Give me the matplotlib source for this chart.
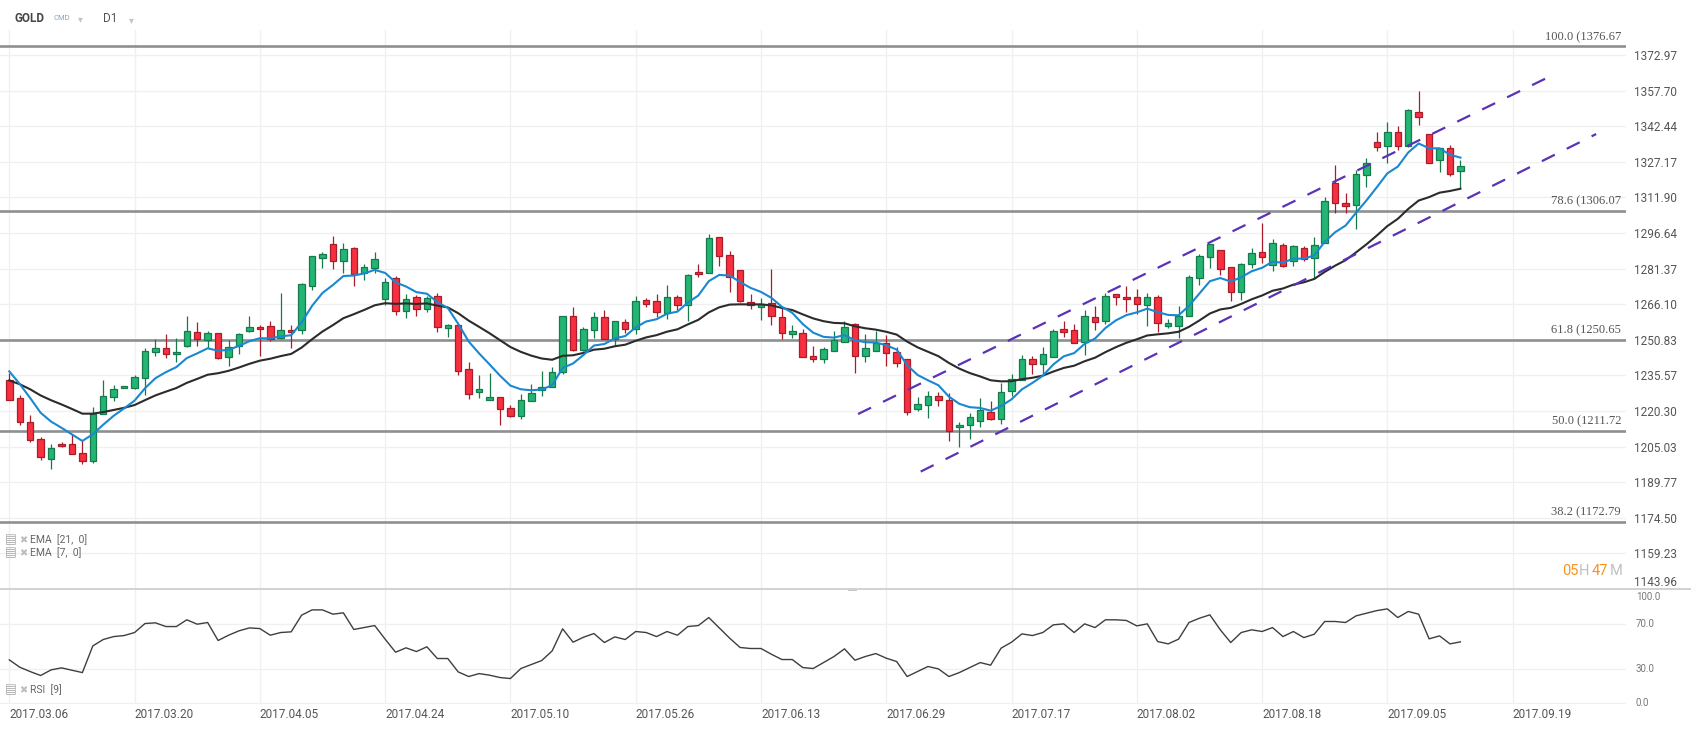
import numpy as np
import matplotlib
matplotlib.use("Agg")
import matplotlib.pyplot as plt
from matplotlib.patches import Rectangle

# ── Data ─────────────────────────────────────────────────────────────────────
OPEN = [1233.4, 1225.8, 1215.6, 1208.3, 1199.7, 1206.1, 1206.1, 1202.3, 1198.9, 1219.0,
        1226.3, 1230.1, 1230.1, 1234.4, 1245.6, 1247.3, 1244.7, 1248.1, 1254.1, 1250.7,
        1253.7, 1243.4, 1248.0, 1254.6, 1256.3, 1256.7, 1251.6, 1255.1, 1255.0, 1273.8,
        1285.8, 1291.8, 1284.6, 1290.1, 1279.4, 1281.6, 1268.3, 1277.3, 1263.1, 1269.4,
        1263.9, 1269.6, 1255.8, 1257.0, 1238.2, 1228.3, 1224.9, 1226.2, 1221.4, 1218.3,
        1224.5, 1229.3, 1230.7, 1236.9, 1261.2, 1246.3, 1254.9, 1260.5, 1251.0, 1258.3,
        1255.3, 1267.8, 1267.3, 1262.2, 1269.1, 1265.6, 1279.8, 1279.4, 1294.8, 1287.1,
        1280.6, 1266.9, 1265.0, 1266.5, 1260.5, 1253.5, 1253.6, 1243.7, 1242.7, 1245.9,
        1250.0, 1257.6, 1244.0, 1246.2, 1249.3, 1245.6, 1242.5, 1221.3, 1223.0, 1226.9,
        1224.9, 1213.3, 1214.1, 1216.1, 1219.7, 1216.7, 1229.0, 1233.5, 1242.8, 1240.6,
        1243.6, 1255.5, 1254.9, 1249.8, 1260.5, 1258.8, 1270.6, 1269.0, 1269.0, 1265.8,
        1269.0, 1256.9, 1256.9, 1261.2, 1277.2, 1286.2, 1289.2, 1281.9, 1271.2, 1283.2,
        1288.4, 1282.9, 1291.4, 1284.5, 1290.4, 1285.8, 1292.2, 1318.0, 1309.4, 1308.5,
        1321.4, 1335.6, 1333.8, 1340.0, 1333.8, 1348.7, 1339.1, 1327.8, 1333.0, 1323.1]
HIGH = [1236.5, 1227.3, 1218.7, 1209.1, 1206.3, 1206.8, 1210.4, 1207.3, 1222.0, 1233.7,
        1231.6, 1230.9, 1235.8, 1247.3, 1251.1, 1253.4, 1251.7, 1261.1, 1258.6, 1254.7,
        1253.7, 1250.8, 1253.7, 1261.1, 1257.1, 1259.0, 1271.1, 1257.1, 1275.4, 1286.7,
        1288.7, 1295.4, 1292.3, 1290.7, 1283.4, 1288.3, 1277.3, 1278.3, 1270.4, 1270.1,
        1269.8, 1270.8, 1257.6, 1257.0, 1241.3, 1235.6, 1236.7, 1226.2, 1222.9, 1227.4,
        1231.7, 1237.5, 1239.2, 1260.9, 1264.9, 1256.2, 1262.6, 1263.5, 1258.8, 1259.8,
        1269.6, 1268.6, 1270.5, 1274.3, 1269.9, 1279.1, 1283.4, 1296.2, 1294.8, 1288.8,
        1280.6, 1270.3, 1268.6, 1281.2, 1264.8, 1257.2, 1255.3, 1248.0, 1247.9, 1254.6,
        1258.8, 1258.2, 1253.2, 1254.6, 1252.8, 1247.9, 1242.5, 1226.2, 1229.0, 1228.6,
        1228.2, 1215.4, 1219.3, 1225.7, 1224.4, 1232.4, 1236.0, 1244.2, 1243.7, 1247.6,
        1255.5, 1258.8, 1257.6, 1263.5, 1265.3, 1270.8, 1270.6, 1273.8, 1272.5, 1270.8,
        1269.9, 1259.6, 1265.3, 1278.5, 1287.5, 1291.8, 1289.2, 1281.9, 1283.9, 1290.4,
        1300.9, 1294.1, 1292.2, 1291.5, 1291.1, 1294.8, 1312.1, 1325.8, 1313.7, 1323.7,
        1328.7, 1340.0, 1344.3, 1342.6, 1349.9, 1357.7, 1339.1, 1333.0, 1334.4, 1328.0]
LOW = [1224.8, 1214.1, 1207.0, 1199.1, 1195.4, 1204.8, 1201.8, 1197.4, 1198.0, 1219.0,
       1224.4, 1230.1, 1229.7, 1227.3, 1244.1, 1242.9, 1241.1, 1247.8, 1248.0, 1247.3,
       1242.6, 1239.8, 1244.6, 1254.1, 1243.7, 1250.3, 1251.1, 1247.3, 1253.3, 1272.0,
       1281.8, 1281.4, 1279.3, 1274.1, 1276.7, 1279.3, 1265.6, 1261.6, 1260.4, 1261.1,
       1262.9, 1254.3, 1252.2, 1235.9, 1225.6, 1226.0, 1224.9, 1214.4, 1217.6, 1217.0,
       1224.5, 1226.9, 1230.5, 1236.0, 1246.0, 1246.0, 1251.8, 1251.0, 1248.5, 1253.9,
       1253.2, 1265.0, 1260.5, 1259.6, 1263.5, 1259.0, 1277.9, 1279.4, 1282.6, 1271.5,
       1266.9, 1263.9, 1259.2, 1257.2, 1251.2, 1251.8, 1243.3, 1241.3, 1241.0, 1245.9,
       1250.0, 1236.5, 1241.5, 1246.2, 1239.7, 1239.3, 1218.6, 1220.3, 1217.4, 1222.4,
       1207.6, 1205.0, 1208.4, 1213.6, 1216.4, 1214.7, 1226.9, 1233.5, 1236.0, 1235.6,
       1243.3, 1252.2, 1249.3, 1244.2, 1254.9, 1257.5, 1265.8, 1262.8, 1261.8, 1256.8,
       1254.3, 1256.0, 1251.8, 1261.2, 1274.5, 1281.5, 1278.6, 1267.6, 1267.9, 1281.5,
       1283.6, 1280.5, 1282.2, 1282.6, 1284.8, 1277.2, 1292.2, 1305.1, 1305.4, 1298.2,
       1316.5, 1332.0, 1326.5, 1332.3, 1333.4, 1343.0, 1326.5, 1323.0, 1321.3, 1315.8]
CLOSE = [1225.1, 1215.6, 1207.8, 1200.6, 1204.4, 1205.1, 1201.8, 1198.9, 1219.1, 1226.7,
         1229.7, 1230.9, 1234.8, 1246.0, 1247.3, 1244.7, 1245.6, 1254.6, 1251.1, 1253.7,
         1243.0, 1247.7, 1253.3, 1256.3, 1255.4, 1251.1, 1255.1, 1254.1, 1274.8, 1286.7,
         1287.6, 1284.6, 1289.7, 1279.1, 1282.0, 1285.4, 1275.6, 1263.4, 1268.3, 1264.0,
         1268.6, 1256.2, 1257.0, 1237.3, 1227.4, 1229.6, 1226.2, 1221.0, 1218.3, 1224.9,
         1227.9, 1230.5, 1236.9, 1260.9, 1246.5, 1255.3, 1260.5, 1251.0, 1258.8, 1255.3,
         1267.3, 1266.3, 1262.6, 1269.1, 1265.6, 1278.5, 1278.9, 1294.4, 1286.7, 1277.6,
         1267.3, 1265.6, 1266.2, 1261.2, 1253.6, 1254.5, 1243.3, 1242.7, 1246.7, 1250.8,
         1256.2, 1244.0, 1247.2, 1249.3, 1245.0, 1241.0, 1220.0, 1223.1, 1226.6, 1224.9,
         1211.9, 1214.1, 1217.6, 1220.6, 1217.0, 1228.3, 1233.9, 1242.5, 1240.6, 1244.7,
         1254.6, 1254.3, 1249.3, 1260.9, 1258.3, 1269.5, 1269.0, 1268.2, 1266.1, 1269.0,
         1258.2, 1257.9, 1260.9, 1277.6, 1286.6, 1291.8, 1281.4, 1271.2, 1283.3, 1287.9,
         1286.2, 1292.2, 1282.6, 1291.0, 1285.5, 1291.4, 1310.2, 1309.4, 1308.4, 1321.8,
         1326.5, 1333.4, 1340.0, 1333.8, 1349.4, 1346.6, 1326.8, 1333.0, 1322.0, 1325.2]
RSI9 = [38.3, 31.8, 27.9, 24.4, 29.4, 31.2, 29.1, 27.0, 50.7, 56.4,
        59.0, 59.9, 62.6, 70.6, 71.2, 67.9, 67.9, 73.9, 70.0, 71.5,
        55.5, 60.2, 64.1, 66.7, 66.1, 60.2, 62.6, 63.2, 78.0, 82.7,
        82.7, 78.9, 80.1, 65.3, 67.0, 68.8, 56.7, 45.1, 49.0, 45.7,
        49.9, 39.5, 39.5, 27.6, 23.5, 26.1, 24.7, 22.6, 21.7, 30.6,
        34.1, 37.7, 46.3, 65.9, 54.0, 58.4, 61.7, 53.7, 58.7, 56.4,
        63.5, 62.6, 59.0, 63.5, 60.2, 67.9, 68.8, 75.9, 66.7, 57.6,
        49.3, 48.4, 48.4, 43.3, 38.6, 38.6, 31.5, 30.6, 35.9, 41.3,
        48.1, 38.0, 41.3, 43.9, 39.8, 36.8, 23.5, 27.9, 32.4, 30.3,
        23.5, 27.0, 31.5, 35.9, 33.6, 48.7, 54.0, 61.4, 59.9, 62.6,
        69.4, 70.3, 62.6, 70.3, 67.0, 73.9, 73.9, 73.3, 68.5, 70.3,
        54.6, 52.5, 56.7, 71.5, 75.3, 78.3, 65.0, 53.7, 62.6, 65.0,
        63.5, 67.0, 59.0, 63.5, 58.1, 61.1, 72.4, 72.4, 71.5, 77.4,
        79.8, 82.1, 83.6, 75.9, 81.3, 78.9, 57.0, 59.6, 52.5, 54.3]

# EMA start values as drawn on the first bar
EMA7_START = 1237.3
EMA21_START = 1233.4

DATE_LABELS = ["2017.03.06", "2017.03.20", "2017.04.05", "2017.04.24", "2017.05.10",
               "2017.05.26", "2017.06.13", "2017.06.29", "2017.07.17", "2017.08.02",
               "2017.08.18", "2017.09.05", "2017.09.19"]
PRICE_TICKS = ["1143.96", "1159.23", "1174.50", "1189.77", "1205.03", "1220.30",
               "1235.57", "1250.83", "1266.10", "1281.37", "1296.64", "1311.90",
               "1327.17", "1342.44", "1357.70", "1372.97"]
RSI_TICKS = [0.0, 30.0, 70.0, 100.0]

FIB_PCT = [100.0, 78.6, 61.8, 50.0, 38.2]
FIB_PRICE = [1376.67, 1306.07, 1250.65, 1211.72, 1172.79]

# channel lines: (bar index, price) start and end
CHANNEL_UPPER = [(81.3, 1219.0), (147.7, 1364.1)]
CHANNEL_LOWER = [(87.3, 1194.3), (152.0, 1339.1)]

# ── Style ────────────────────────────────────────────────────────────────────
W, H = 1691, 729
GREEN, GREEN_EDGE = "#22b573", "#177a4c"
RED, RED_EDGE = "#f7303f", "#a91d2a"
GRID = "#f0f0f0"
FIB_COL = "#8d9092"
TXT = "#555555"
FONT = "Roboto"


def ema(values, span, start):
    a = 2.0 / (span + 1)
    out = [start]
    for v in values[1:]:
        out.append(out[-1] + a * (v - out[-1]))
    return np.array(out)


def fx(px):
    return px / W


def fy(py):
    return 1 - py / H


n = len(CLOSE)
idx = np.arange(n)
o, h, l, c = map(np.array, (OPEN, HIGH, LOW, CLOSE))
up = c >= o

fig = plt.figure(figsize=(W / 100, H / 100), dpi=100)
fig.patch.set_facecolor("white")

XLIM = (-0.891, 154.86)
ax = fig.add_axes([0, fy(589), fx(1626), (589 - 30) / H])
ax_r = fig.add_axes([0, fy(704.1), fx(1626), (704.1 - 589.3) / H])

for a in (ax, ax_r):
    a.set_xlim(*XLIM)
    for s in a.spines.values():
        s.set_visible(False)
    a.tick_params(length=0)
    a.set_xticks(np.arange(0, 12 * len(DATE_LABELS), 12))
    a.grid(True, color=GRID, lw=1)
    a.set_axisbelow(True)

# ── Price panel ──────────────────────────────────────────────────────────────
ax.set_ylim(1143.93, 1383.74)
ax.set_yticks([float(t) for t in PRICE_TICKS])
ax.yaxis.tick_right()
ax.set_yticklabels(PRICE_TICKS, fontsize=8.5, color=TXT, fontfamily=FONT)
ax.tick_params(axis="y", pad=6)
ax.get_yticklabels()[0].set_va("bottom")   # lowest label sits above the panel edge
ax.set_xticklabels([])

for lvl, pr in zip(FIB_PCT, FIB_PRICE):
    ax.axhline(pr, color=FIB_COL, lw=1.9, zorder=1)
    ax.annotate(f"{lvl:.1f} ({pr:.2f}", xy=(0.997, pr), xycoords=("axes fraction", "data"),
                xytext=(0, 2.5), textcoords="offset points", ha="right", va="bottom",
                fontsize=9, color=TXT, fontfamily="Liberation Serif")

# wicks and bodies
ax.vlines(idx[up], l[up], h[up], color=GREEN_EDGE, lw=0.9, zorder=3)
ax.vlines(idx[~up], l[~up], h[~up], color=RED_EDGE, lw=0.9, zorder=3)
body_lo = np.minimum(o, c)
body_h = np.maximum(np.abs(c - o), 0.5)
ax.bar(idx[up], body_h[up], bottom=body_lo[up], width=0.62, color=GREEN,
       edgecolor=GREEN_EDGE, lw=0.9, zorder=4)
ax.bar(idx[~up], body_h[~up], bottom=body_lo[~up], width=0.62, color=RED,
       edgecolor=RED_EDGE, lw=0.9, zorder=4)

ax.plot(idx, ema(CLOSE, 21, EMA21_START), color="#2b2b2b", lw=1.5, zorder=5)
ax.plot(idx, ema(CLOSE, 7, EMA7_START), color="#1a88d0", lw=1.5, zorder=5)

for (x0, y0), (x1, y1) in (CHANNEL_UPPER, CHANNEL_LOWER):
    ax.plot([x0, x1], [y0, y1], color="#5a32b8", lw=1.6, dashes=(6.5, 6), zorder=6)

# ── RSI panel ────────────────────────────────────────────────────────────────
ax_r.set_ylim(-1, 101)
ax_r.set_yticks([0, 30, 70])
ax_r.set_yticklabels([])
ax_r.plot(idx, RSI9, color="#3c3f42", lw=1.0)
ax_r.set_xticklabels(DATE_LABELS, ha="left", fontsize=8.5, color=TXT, fontfamily=FONT)
ax_r.tick_params(axis="x", pad=3)
for v in RSI_TICKS:
    ax_r.annotate(f"{v:.1f}", xy=(1.0, min(v, 94.0)), xycoords=("axes fraction", "data"),
                  xytext=(7, 0), textcoords="offset points", ha="left", va="center",
                  fontsize=7, color="#777777", fontfamily=FONT)

# panel separator
fig.add_artist(plt.Line2D([0, 1], [fy(589.3), fy(589.3)], color="#d2d2d2", lw=1.4))
fig.add_artist(Rectangle((fx(848), fy(590.5)), fx(9), 2.5 / H, color="#c8c8c8", lw=0))

# ── Header & legends ─────────────────────────────────────────────────────────
fig.text(fx(14), fy(18), "GOLD", fontsize=8.5, fontweight="bold", color="#454545",
         fontfamily=FONT, va="center")
fig.text(fx(53), fy(18), "CMD", fontsize=5.5, color="#8fa3b8", fontfamily=FONT, va="center")
fig.text(fx(78), fy(19), "▾", fontsize=7, color="#c4c4c4", va="center")
fig.text(fx(103), fy(18), "D1", fontsize=8.5, color="#555555", fontfamily=FONT, va="center")
fig.text(fx(129), fy(20), "▾", fontsize=7, color="#c4c4c4", va="center")

for ypix, label in ((540, "EMA  [21,  0]"), (553, "EMA  [7,  0]"), (690, "RSI  [9]")):
    fig.text(fx(5), fy(ypix), "▤", fontsize=9, color="#a8a8a8", va="center",
             fontfamily="DejaVu Sans")
    fig.text(fx(19), fy(ypix), "✖", fontsize=7, color="#bdbdbd", va="center",
             fontfamily="DejaVu Sans")
    fig.text(fx(30), fy(ypix), label, fontsize=7.5, color="#666666", va="center",
             fontfamily=FONT)

# countdown to candle close
for xpix, s, col in ((1562, "05", "#f7931e"), (1579, "H", "#c0c0c0"),
                     (1592, "47", "#f7931e"), (1610, "M", "#c0c0c0")):
    fig.text(fx(xpix), fy(571), s, fontsize=10.5, color=col, va="center", fontfamily=FONT)

fig.savefig("out.png", dpi=100, facecolor="white")
